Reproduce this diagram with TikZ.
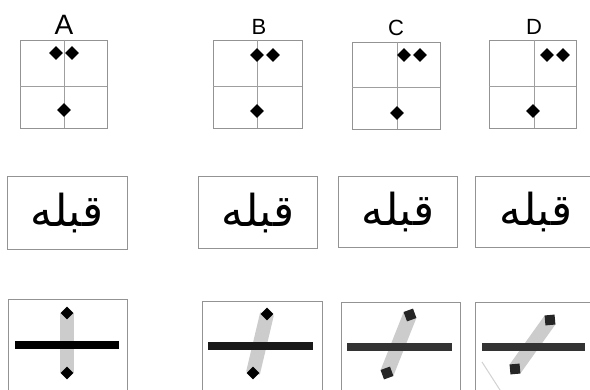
\documentclass[tikz,border=0pt]{standalone}
\usepackage{fontspec}
\setmainfont{Liberation Sans}
\newfontfamily\arabicfont[Script=Arabic]{DejaVu Sans}
\TeXXeTstate=1
\usetikzlibrary{shapes.geometric}

\tikzset{
  rahmen/.style={draw=gray!85,line width=0.8pt},
  achse/.style={draw=gray!75,line width=0.5pt},
  raute/.style={diamond,fill=black,inner sep=0pt,minimum size=14pt},
  rautek/.style={diamond,fill=black,inner sep=0pt,minimum size=13pt},
  quadrat/.style={rectangle,fill=black!85,inner sep=0pt,minimum size=10pt},
  buchstabe/.style={font=\fontsize{22}{22}\selectfont},
  wort/.style={font=\arabicfont\fontsize{44}{44}\selectfont,inner sep=0pt},
  balken/.style={line width=8pt},
  band/.style={line width=14pt,draw=gray!40}
}

\begin{document}
\begin{tikzpicture}[x=1pt,y=-1pt]
  \useasboundingbox[fill=white] (0,0) rectangle (590,390);
  % Buchstaben
  \node[font=\fontsize{28}{28}\selectfont] (labA) at (64,25) {A};
  \node[buchstabe] (labB) at (259,27) {B};
  \node[buchstabe] (labC) at (396,28) {C};
  \node[buchstabe] (labD) at (534,27) {D};
  % obere Reihe: Raster
  \draw[rahmen] (20,40) rectangle (107,128);
  \draw[achse] (20,86) -- (107,86) (64,40) -- (64,128);
  \draw[rahmen] (213,40) rectangle (302,128);
  \draw[achse] (213,86) -- (302,86) (257,40) -- (257,128);
  \draw[rahmen] (352,42) rectangle (440,129);
  \draw[achse] (352,87) -- (440,87) (397,42) -- (397,129);
  \draw[rahmen] (489,40) rectangle (576,128);
  \draw[achse] (489,86) -- (576,86) (534,40) -- (534,128);
  % obere Reihe: Punkte
  \node[raute] (a1) at (56,53) {};
  \node[raute] (a2) at (72,53) {};
  \node[raute] (a3) at (64,110) {};
  \node[raute] (b1) at (257,55) {};
  \node[raute] (b2) at (273,55) {};
  \node[raute] (b3) at (257,111) {};
  \node[raute] (c1) at (404,55) {};
  \node[raute] (c2) at (420,55) {};
  \node[raute] (c3) at (397,113) {};
  \node[raute] (d1) at (547,55) {};
  \node[raute] (d2) at (563,55) {};
  \node[raute] (d3) at (533,111) {};
  % mittlere Reihe: Schrift
  \draw[rahmen] (7,176) rectangle (127,249);
  \draw[rahmen] (198,176) rectangle (317,248);
  \draw[rahmen] (338,176) rectangle (457,247);
  \draw[rahmen] (475,176) rectangle (592,247);
  \node[wort] (wA) at (67,213) {\beginR قبله\endR};
  \node[wort] (wB) at (258,213) {\beginR قبله\endR};
  \node[wort] (wC) at (398,212) {\beginR قبله\endR};
  \node[wort] (wD) at (536,212) {\beginR قبله\endR};
  % untere Reihe: Rahmen
  \draw[rahmen] (8,299) rectangle (127,390);
  \draw[rahmen] (202,301) rectangle (322,390);
  \draw[rahmen] (341,302) rectangle (460,390);
  \draw[rahmen] (475,302) rectangle (592,390);
  \draw[gray!35,line width=1pt] (482,362) -- (500,390);
  % untere Reihe: Stab
  \coordinate (sAo) at (67,313);
  \coordinate (sAu) at (67,373);
  \coordinate (sBo) at (267,314);
  \coordinate (sBu) at (253,373);
  \coordinate (sCo) at (410,315);
  \coordinate (sCu) at (387,373);
  \coordinate (sDo) at (550,320);
  \coordinate (sDu) at (515,369);
  \draw[band] (sAo) -- (sAu);
  \draw[band] (sBo) -- (sBu);
  \draw[band] (sCo) -- (sCu);
  \draw[band] (sDo) -- (sDu);
  % untere Reihe: Balken
  \coordinate (bAl) at (15,345);
  \coordinate (bAr) at (119,345);
  \coordinate (bBl) at (208,346);
  \coordinate (bBr) at (313,346);
  \coordinate (bCl) at (347,347);
  \coordinate (bCr) at (452,347);
  \coordinate (bDl) at (482,347);
  \coordinate (bDr) at (585,347);
  \draw[balken,black] (bAl) -- (bAr);
  \draw[balken,black!90] (bBl) -- (bBr);
  \draw[balken,black!80] (bCl) -- (bCr);
  \draw[balken,black!80] (bDl) -- (bDr);
  % untere Reihe: Enden
  \node[rautek] (eAo) at (sAo) {};
  \node[rautek] (eAu) at (sAu) {};
  \node[rautek] (eBo) at (sBo) {};
  \node[rautek] (eBu) at (sBu) {};
  \node[quadrat,rotate=20] (eCo) at (sCo) {};
  \node[quadrat,rotate=20] (eCu) at (sCu) {};
  \node[quadrat,rotate=5] (eDo) at (sDo) {};
  \node[quadrat,rotate=5] (eDu) at (sDu) {};
\end{tikzpicture}
\end{document}
